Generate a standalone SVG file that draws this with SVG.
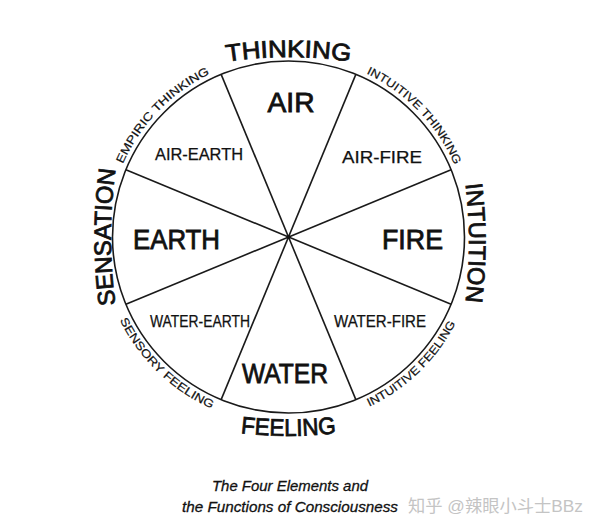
<svg xmlns="http://www.w3.org/2000/svg" xmlns:xlink="http://www.w3.org/1999/xlink" width="600" height="528" viewBox="0 0 600 528">
<style>
.big{font-family:"Liberation Sans",Arial,sans-serif;font-size:27px;fill:#111;stroke:#111;stroke-width:0.8}
.mid{font-family:"Liberation Sans",Arial,sans-serif;font-size:16px;fill:#111;stroke:#111;stroke-width:0.25}
.outer{font-family:"Liberation Sans",Arial,sans-serif;font-size:24px;fill:#111;stroke:#111;stroke-width:0.8}
.small{font-family:"Liberation Sans",Arial,sans-serif;font-size:11.5px;fill:#111;stroke:#111;stroke-width:0.2}
.cap{font-family:"Liberation Sans",Arial,sans-serif;font-size:15px;font-style:italic;fill:#111;stroke:#111;stroke-width:0.3}
.wm{font-family:"Liberation Sans","Noto Sans CJK SC",sans-serif;font-size:17px;fill:#c4c4c4}
.ln{stroke:#1a1a1a;stroke-width:1.6;fill:none}
</style>
<defs>
<path id="pThinking" d="M138.5,86.2 A400,400 0 0 1 438.5,86.2"/>
<path id="pEmpiric" d="M114.5,286.9 A181,181 0 0 1 332.3,61.4"/>
<path id="pIntThink" d="M244.7,61.4 A181,181 0 0 1 462.5,286.9"/>
<path id="pSensation" d="M134,387 A500,500 0 0 1 134,87"/>
<path id="pIntuition" d="M446,93 A500,500 0 0 1 446,393"/>
<path id="pFeeling" d="M138.5,406.8 A400,400 0 0 0 438.5,406.8"/>
<path id="pSensory" d="M106.1,191.5 A188,188 0 0 0 340.3,417.7"/>
<path id="pIntFeel" d="M236.7,417.7 A188,188 0 0 0 470.9,191.5"/>
</defs>
<rect width="600" height="528" fill="#fff"/>
<g id="connectors">
<circle class="ln" cx="288.5" cy="237" r="176" stroke-width="2"/>
<line class="ln" x1="451.1" y1="169.65" x2="125.9" y2="304.35"/>
<line class="ln" x1="355.85" y1="74.4" x2="221.15" y2="399.6"/>
<line class="ln" x1="221.15" y1="74.4" x2="355.85" y2="399.6"/>
<line class="ln" x1="125.9" y1="169.65" x2="451.1" y2="304.35"/>
<circle cx="288.5" cy="237" r="2" fill="#111"/>
</g>
<g id="air"><text class="big" x="291" y="112" text-anchor="middle" textLength="47" lengthAdjust="spacingAndGlyphs">AIR</text></g>
<g id="air-earth"><text class="mid" x="199" y="160" text-anchor="middle" textLength="88" lengthAdjust="spacingAndGlyphs">AIR-EARTH</text></g>
<g id="air-fire"><text class="mid" x="382" y="163" text-anchor="middle" textLength="80" lengthAdjust="spacingAndGlyphs">AIR-FIRE</text></g>
<g id="earth"><text class="big" x="176.5" y="249" text-anchor="middle" textLength="87" lengthAdjust="spacingAndGlyphs">EARTH</text></g>
<g id="fire"><text class="big" x="412.5" y="249" text-anchor="middle" textLength="61" lengthAdjust="spacingAndGlyphs">FIRE</text></g>
<g id="water-earth"><text class="mid" x="200" y="327" text-anchor="middle" textLength="100" lengthAdjust="spacingAndGlyphs">WATER-EARTH</text></g>
<g id="water-fire"><text class="mid" x="380" y="327" text-anchor="middle" textLength="92" lengthAdjust="spacingAndGlyphs">WATER-FIRE</text></g>
<g id="water"><text class="big" x="285" y="383" text-anchor="middle" textLength="86" lengthAdjust="spacingAndGlyphs">WATER</text></g>
<g id="thinking"><text class="outer" text-anchor="middle"><textPath xlink:href="#pThinking" startOffset="50%" textLength="124" lengthAdjust="spacingAndGlyphs">THINKING</textPath></text></g>
<g id="empiric-thinking">
<text class="small"><textPath xlink:href="#pEmpiric" startOffset="125.5" textLength="57.8" lengthAdjust="spacingAndGlyphs">EMPIRIC</textPath></text>
<text class="small"><textPath xlink:href="#pEmpiric" startOffset="187.2" textLength="66.3" lengthAdjust="spacingAndGlyphs">THINKING</textPath></text>
</g>
<g id="intuitive-thinking">
<text class="small"><textPath xlink:href="#pIntThink" startOffset="124.5" textLength="63.5" lengthAdjust="spacingAndGlyphs">INTUITIVE</textPath></text>
<text class="small"><textPath xlink:href="#pIntThink" startOffset="191.7" textLength="62.8" lengthAdjust="spacingAndGlyphs">THINKING</textPath></text>
</g>
<g id="sensation"><text class="outer" text-anchor="middle"><textPath xlink:href="#pSensation" startOffset="50%" textLength="136" lengthAdjust="spacingAndGlyphs">SENSATION</textPath></text></g>
<g id="intuition"><text class="outer" text-anchor="middle"><textPath xlink:href="#pIntuition" startOffset="50%" textLength="118" lengthAdjust="spacingAndGlyphs">INTUITION</textPath></text></g>
<g id="feeling"><text class="outer" text-anchor="middle"><textPath xlink:href="#pFeeling" startOffset="50%" textLength="96" lengthAdjust="spacingAndGlyphs">FEELING</textPath></text></g>
<g id="sensory-feeling">
<text class="small"><textPath xlink:href="#pSensory" startOffset="131.9" textLength="67.3" lengthAdjust="spacingAndGlyphs">SENSORY</textPath></text>
<text class="small"><textPath xlink:href="#pSensory" startOffset="203" textLength="58.9" lengthAdjust="spacingAndGlyphs">FEELING</textPath></text>
</g>
<g id="intuitive-feeling">
<text class="small"><textPath xlink:href="#pIntFeel" startOffset="135.9" textLength="62.8" lengthAdjust="spacingAndGlyphs">INTUITIVE</textPath></text>
<text class="small"><textPath xlink:href="#pIntFeel" startOffset="202.3" textLength="55.6" lengthAdjust="spacingAndGlyphs">FEELING</textPath></text>
</g>
<g id="caption">
<text class="cap" x="290" y="491" text-anchor="middle" textLength="156" lengthAdjust="spacingAndGlyphs">The Four Elements and</text>
<text class="cap" x="290" y="512" text-anchor="middle" textLength="216" lengthAdjust="spacingAndGlyphs">the Functions of Consciousness</text>
</g>
<g id="watermark"><text class="wm" x="408" y="512" textLength="175" lengthAdjust="spacingAndGlyphs">知乎 @辣眼小斗士BBz</text></g>
</svg>
